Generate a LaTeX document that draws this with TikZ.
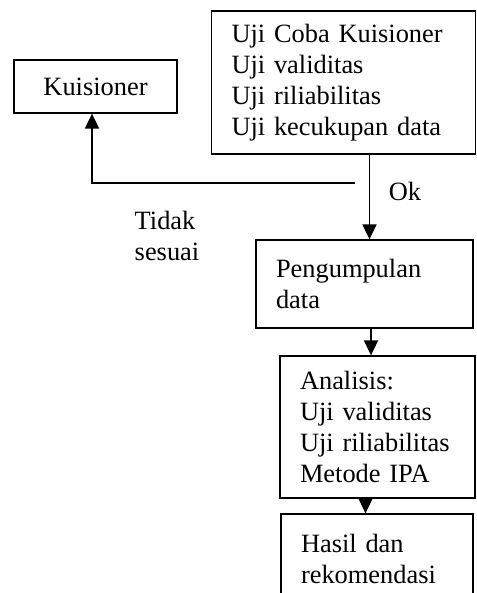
\documentclass[tikz,border=0pt]{standalone}
\usepackage{fontspec}
\setmainfont{Liberation Serif}
\usetikzlibrary{arrows.meta}
\tikzset{
  kotak/.style={draw, line width=0.65pt, align=left, inner xsep=10pt, inner ysep=4pt,
    font=\fontsize{13.2}{15.5}\selectfont},
  panah/.style={line width=0.9pt, -{Triangle[length=7.5pt, width=7pt]}},
  label teks/.style={align=left, inner sep=0pt, font=\fontsize{13.2}{15.5}\selectfont}
}
\begin{document}
\begin{tikzpicture}[x=0.5pt, y=-0.5pt]
    \useasboundingbox (0,0) rectangle (476,593);
    \node[kotak, align=center, minimum width=81.5pt, minimum height=26.5pt] (kuisioner) at (95.5,86.5) {Kuisioner};
    \node[kotak, text width=112pt, minimum height=71.5pt] (uji) at (343.5,82.5) {Uji Coba Kuisioner\\Uji validitas\\Uji riliabilitas\\Uji kecukupan data};
    \node[kotak, text width=88.5pt, minimum height=44pt] (pengumpulan) at (364.5,284) {Pengumpulan\\data};
    \node[kotak, text width=77.5pt, minimum height=71pt] (analisis) at (377.5,427) {Analisis:\\Uji validitas\\Uji riliabilitas\\Metode IPA};
    \node[kotak, text width=76pt, minimum height=44.5pt] (hasil) at (377,558.5) {Hasil dan\\rekomendasi};
    \coordinate (belok) at (355,183);
    \node[label teks] (ok) at (405,191) {Ok};
    \node[label teks] (tidak) at (167,236) {Tidak\\sesuai};
    \draw[panah] ([xshift=13pt]uji.south) -- ([xshift=13pt]uji.south |- pengumpulan.north);
    \draw[panah] (belok) -| ([xshift=-1.75pt]kuisioner.south);
    \draw[panah] ([xshift=3.25pt]pengumpulan.south) -- ([xshift=3.25pt]pengumpulan.south |- analisis.north);
    \draw[panah] ([xshift=-6pt]analisis.south) -- ([xshift=-6pt]analisis.south |- hasil.north);
  \end{tikzpicture}
\end{document}
